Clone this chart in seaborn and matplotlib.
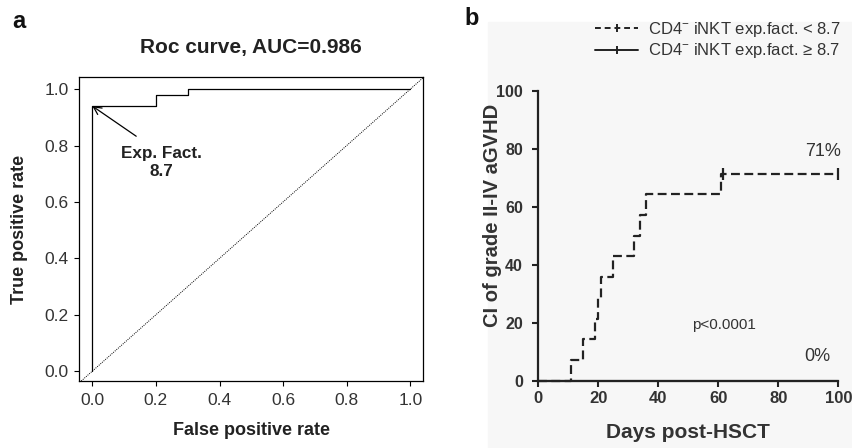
import matplotlib
matplotlib.use("Agg")
import matplotlib.pyplot as plt
from matplotlib.lines import Line2D
from matplotlib.patches import Rectangle
import seaborn as sns
import pandas as pd

# ---------------- data ----------------
roc_fpr = [0.0, 0.0, 0.2, 0.2, 0.3, 0.3, 1.0]
roc_tpr = [0.0, 0.941, 0.941, 0.980, 0.980, 1.0, 1.0]
roc_ticks = [0.0, 0.2, 0.4, 0.6, 0.8, 1.0]

cif_days = [0, 11, 15, 19, 20, 21, 25, 32, 34, 36, 61, 100]
cif_low = [0, 7.1, 14.3, 21.4, 28.6, 35.7, 42.9, 50.0, 57.1, 64.3, 71.4, 71.4]
cens_days = [61.5, 100]
cens_low = [71.4, 71.4]
high_days = [0, 100]
high_vals = [0, 0]
cif_ticks = [0, 20, 40, 60, 80, 100]

# ---------------- style ----------------
sns.set_theme(style="white")
plt.rcParams["font.family"] = ["Liberation Sans", "DejaVu Sans"]
plt.rcParams["mathtext.fontset"] = "custom"
plt.rcParams["mathtext.rm"] = "Liberation Sans"
plt.rcParams["mathtext.it"] = "Liberation Sans:italic"
plt.rcParams["mathtext.bf"] = "Liberation Sans:bold"

W, H = 853, 448
fig = plt.figure(figsize=(W / 100, H / 100), dpi=100)

# faint gray background of panel b
fig.patches.append(Rectangle((488 / W, 0), 1 - 488 / W, 1 - 22 / H,
                             transform=fig.transFigure, color="#f7f7f7", zorder=-10))

# ---------------- panel a ----------------
ax1 = fig.add_axes([79.3 / W, 1 - 381 / H, (423.3 - 79.3) / W, (381 - 77.3) / H])
ax1.set_facecolor("white")
roc_df = pd.DataFrame({"fpr": roc_fpr, "tpr": roc_tpr})
sns.lineplot(data=roc_df, x="fpr", y="tpr", estimator=None, sort=False,
             color="black", lw=0.9, ax=ax1)
ax1.axline((0, 0), (1, 1), color="black", lw=0.7, ls=(0, (1, 1.2)))
ax1.set_xlim(-0.041, 1.041)
ax1.set_ylim(-0.035, 1.042)
ax1.set_xticks(roc_ticks)
ax1.set_yticks(roc_ticks)
ax1.set_xticklabels([f"{t:.1f}" for t in roc_ticks])
ax1.set_yticklabels([f"{t:.1f}" for t in roc_ticks])
for s in ax1.spines.values():
    s.set_color("black")
    s.set_linewidth(0.9)
    s.set_visible(True)
ax1.tick_params(axis="both", which="both", direction="out", length=3.6, width=0.8,
                color="black", labelsize=12.5, labelcolor="#333333",
                bottom=True, left=True)
ax1.tick_params(axis="x", pad=5)
ax1.tick_params(axis="y", pad=4)
ax1.set_xlabel("False positive rate", fontsize=13, fontweight="bold", color="#222222")
ax1.set_ylabel("True positive rate", fontsize=13, fontweight="bold", color="#222222")
ax1.xaxis.set_label_coords(0.5, (381 - 430.5) / (381 - 77.3), transform=ax1.transAxes)
ax1.xaxis.label.set_va("center")
ax1.yaxis.set_label_coords((20 - 79.3) / (423.3 - 79.3), 0.5)
ax1.yaxis.label.set_va("center")
ax1.annotate("", xy=(0.0, 0.94), xytext=(0.138, 0.833),
             arrowprops=dict(arrowstyle="->", lw=0.9, color="black",
                             shrinkA=0, shrinkB=0, mutation_scale=14))
ax1.text(0.218, 0.74, "Exp. Fact.\n8.7", ha="center", va="center", fontsize=12.3,
         fontweight="bold", color="#222222", linespacing=1.2)
fig.text(251.3 / W, 1 - 52.7 / H, "Roc curve, AUC=0.986", ha="center", va="baseline",
         fontsize=15, fontweight="bold", color="#222222")
fig.text(12 / W, 1 - 28 / H, "a", ha="left", va="baseline", fontsize=17,
         fontweight="bold", color="#111111")

# ---------------- panel b ----------------
ax2 = fig.add_axes([538.3 / W, 1 - 381 / H, 300 / W, (381 - 90.7) / H])
ax2.set_facecolor("none")
dark = "#222222"
sns.lineplot(x=high_days, y=high_vals, color=dark, lw=1.5, ax=ax2, clip_on=False)
sns.lineplot(x=cif_days, y=cif_low, drawstyle="steps-post", color=dark, lw=1.6,
             ls=(0, (4, 2)), ax=ax2, clip_on=False)
sns.scatterplot(x=cens_days, y=cens_low, marker="|", s=70, linewidth=1.6,
                color=dark, ax=ax2, clip_on=False, zorder=5)
ax2.set_xlim(0, 100)
ax2.set_ylim(0, 100)
ax2.set_xticks(cif_ticks)
ax2.set_yticks(cif_ticks)
sns.despine(ax=ax2)
for s in ("left", "bottom"):
    ax2.spines[s].set_color(dark)
    ax2.spines[s].set_linewidth(1.6)
ax2.tick_params(axis="both", direction="out", length=4.5, width=1.5, color=dark,
                labelsize=11.5, labelcolor="#333333", bottom=True, left=True)
ax2.tick_params(axis="y", pad=6.5)
ax2.tick_params(axis="x", pad=2.5, labelsize=12)
for lab in ax2.get_xticklabels() + ax2.get_yticklabels():
    lab.set_fontweight("bold")
ax2.set_xlabel("Days post-HSCT", fontsize=15, fontweight="bold", color="#333333")
ax2.set_ylabel("CI of grade II-IV aGVHD", fontsize=14.5, fontweight="bold", color="#333333")
ax2.xaxis.set_label_coords(0.5, (381 - 432) / (381 - 90.7))
ax2.xaxis.label.set_va("center")
ax2.yaxis.set_label_coords((493 - 538.3) / 300, (381 - 215) / (381 - 90.7))
ax2.yaxis.label.set_va("center")

ax2.text(100.9, 79.0, "71%", ha="right", va="center", fontsize=13, color="#333333")
ax2.text(97.2, 8.3, "0%", ha="right", va="center", fontsize=13, color="#333333")
ax2.text(61.9, 19.3, "p<0.0001", ha="center", va="center", fontsize=11, color="#333333")

fig.text(464 / W, 1 - 25 / H, "b", ha="left", va="baseline", fontsize=17,
         fontweight="bold", color="#111111")

handles = [
    Line2D([], [], color=dark, lw=1.4, ls=(0, (3, 2)), marker="|", markersize=6,
           markeredgewidth=1.4),
    Line2D([], [], color=dark, lw=1.4, ls="-", marker="|", markersize=6,
           markeredgewidth=1.4),
]
labels = ["CD4$^{-}$ iNKT exp.fact. < 8.7", "CD4$^{-}$ iNKT exp.fact. \u2265 8.7"]
fig.legend(handles, labels, loc="upper left",
           bbox_to_anchor=(595 / W, 1 - 20 / H), bbox_transform=fig.transFigure,
           frameon=False, fontsize=12, handlelength=2.6, handletextpad=0.6,
           borderpad=0, borderaxespad=0, labelspacing=0.15, numpoints=1,
           labelcolor="#333333")

fig.savefig("out.png", dpi=100)
